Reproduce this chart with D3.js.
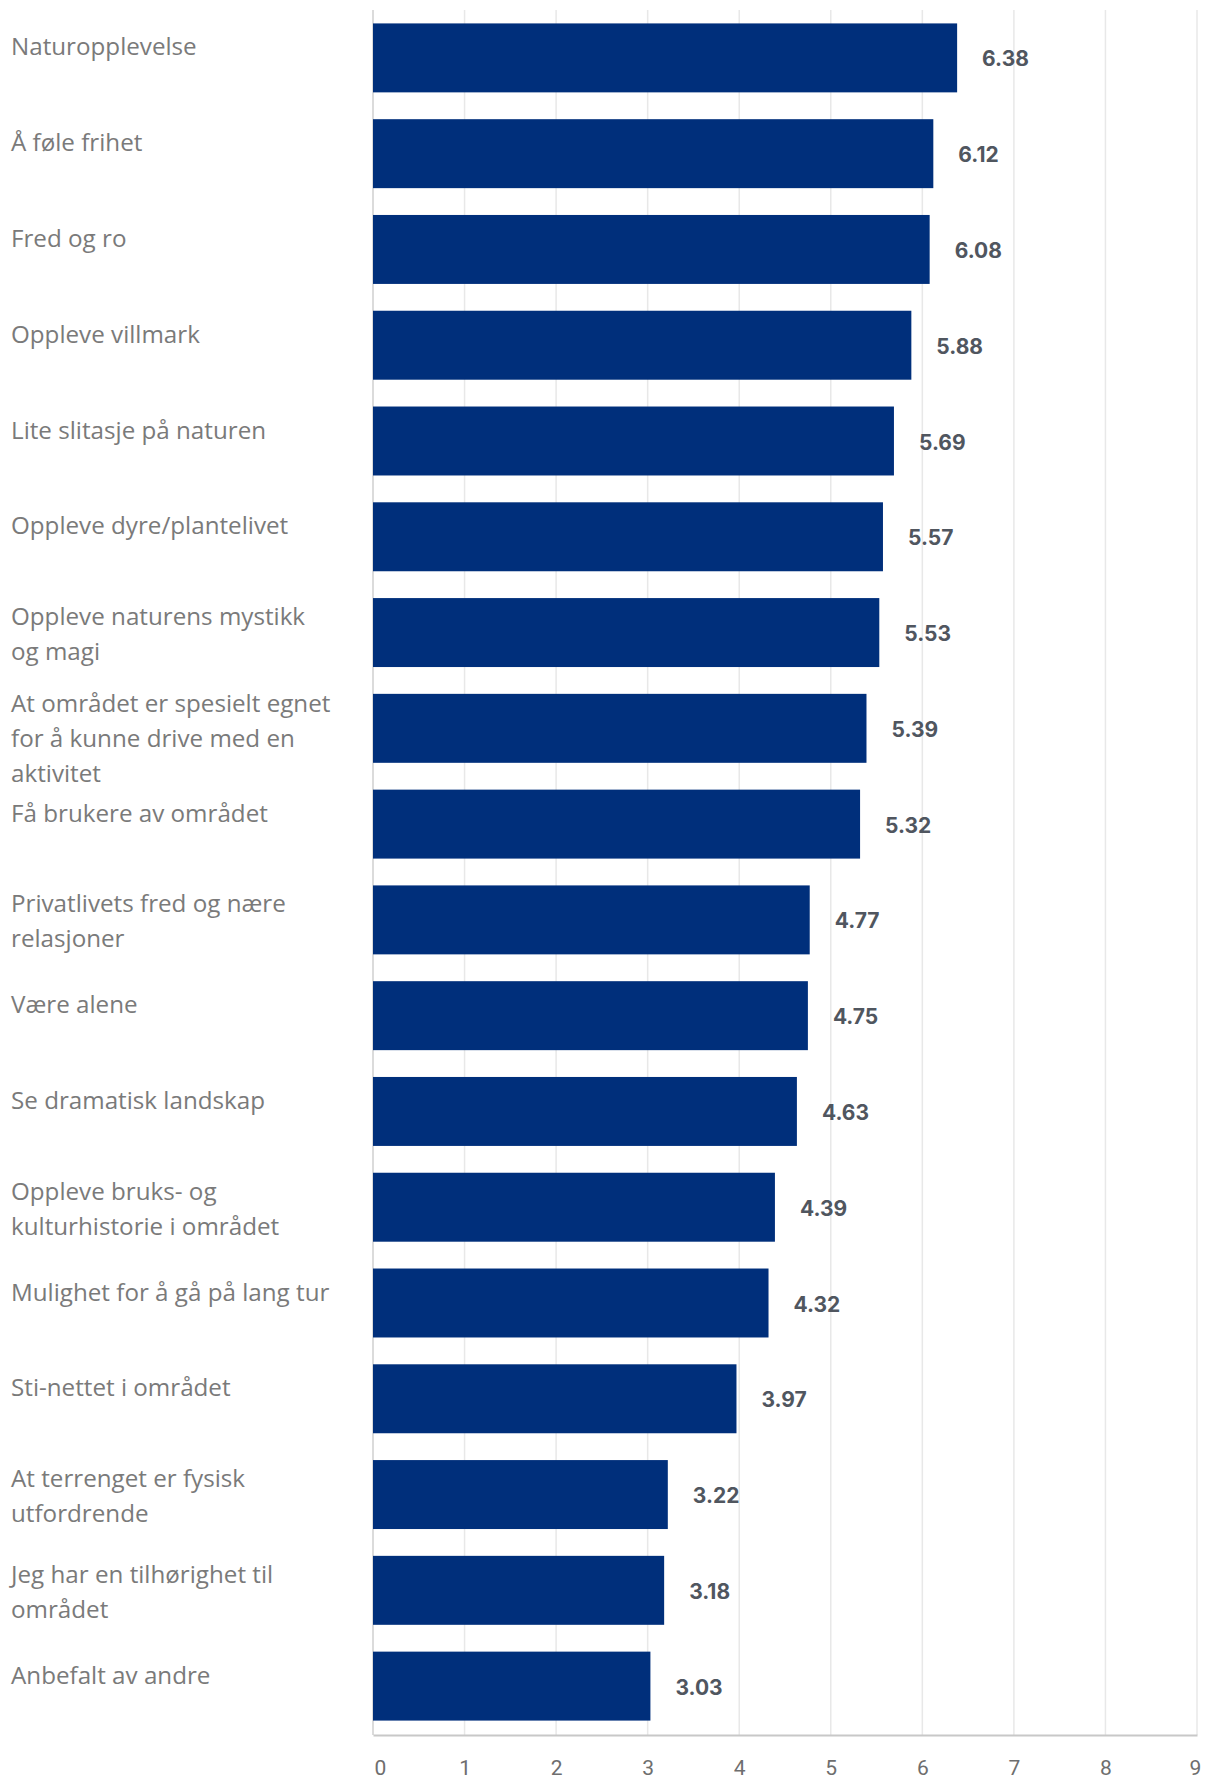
<!DOCTYPE html>
<html><head><meta charset="utf-8">
<script src="https://cdn.jsdelivr.net/npm/d3@7"></script>
<style>body{margin:0;background:#fff;overflow:hidden}</style>
</head><body>
<svg id="chart" width="1205" height="1782"></svg>
<script>
const categories = [
  "Naturopplevelse",
  "Å føle frihet",
  "Fred og ro",
  "Oppleve villmark",
  "Lite slitasje på naturen",
  "Oppleve dyre/plantelivet",
  "Oppleve naturens mystikk\nog magi",
  "At området er spesielt egnet\nfor å kunne drive med en\naktivitet",
  "Få brukere av området",
  "Privatlivets fred og nære\nrelasjoner",
  "Være alene",
  "Se dramatisk landskap",
  "Oppleve bruks- og\nkulturhistorie i området",
  "Mulighet for å gå på lang tur",
  "Sti-nettet i området",
  "At terrenget er fysisk\nutfordrende",
  "Jeg har en tilhørighet til\nområdet",
  "Anbefalt av andre"
];
const values = [6.38, 6.12, 6.08, 5.88, 5.69, 5.57, 5.53, 5.39, 5.32, 4.77, 4.75, 4.63, 4.39, 4.32, 3.97, 3.22, 3.18, 3.03];
const tickValues = [0,1,2,3,4,5,6,7,8,9];

const svg = d3.select("#chart");
const axisY = 1735;
const x = d3.scaleLinear().domain([0, 9]).range([373, 1197]);
const y = d3.scaleBand().domain(d3.range(categories.length)).range([10, 1734]).paddingInner(0.28).paddingOuter(0.14);

// gridlines
svg.append("g").selectAll("line").data(tickValues).join("line")
  .attr("x1", d => x(d)).attr("x2", d => x(d))
  .attr("y1", 10).attr("y2", axisY)
  .attr("stroke", d => d === 0 ? "#cfcfcf" : "#e8e8e8").attr("stroke-width", 1.5);

// axis
const axis = d3.axisBottom(x).tickValues(tickValues).tickSize(0).tickPadding(0).tickFormat(d3.format("d"));
const ag = svg.append("g").attr("transform", `translate(0,${axisY})`).call(axis);
ag.select(".domain").attr("stroke", "#c8c8c8").attr("stroke-width", 2);
ag.selectAll("text")
  .attr("y", 40).attr("dy", 0)
  .attr("font-family", "'Liberation Sans Narrow', Roboto, sans-serif")
  .attr("font-size", 21).attr("fill", "#6e6e6e")
  .attr("dx", d => d === 0 ? 7 : (d === 9 ? -2 : 0));

// bars
svg.append("g").selectAll("rect").data(values).join("rect")
  .attr("x", x(0)).attr("y", (d, i) => y(i))
  .attr("width", d => x(d) - x(0)).attr("height", y.bandwidth())
  .attr("fill", "#002f7b");

// value labels
svg.append("g").selectAll("text").data(values).join("text")
  .attr("x", d => x(d) + 25).attr("y", (d, i) => y(i) + y.bandwidth() / 2 + 1)
  .attr("dominant-baseline", "central")
  .attr("font-family", "Inter, Roboto, sans-serif").attr("font-weight", 700)
  .attr("font-size", 21).attr("fill", "#50565f")
  .text(d => d.toFixed(2));

// category labels
const lh = 35;
const lg = svg.append("g");
categories.forEach((c, i) => {
  const lines = c.split("\n");
  const n = lines.length;
  const cy = y(i) + y.bandwidth() / 2;
  const first = n === 1 ? cy - 12 : cy - 8 - (n - 1) * 9;
  const t = lg.append("text")
    .attr("font-family", "'Open Sans', sans-serif").attr("font-size", 24.2)
    .attr("fill", "#7a7a7a");
  lines.forEach((l, k) => {
    t.append("tspan").attr("x", 11).attr("y", first + k * lh)
      .attr("dominant-baseline", "central").text(l);
  });
});
</script>
</body></html>
